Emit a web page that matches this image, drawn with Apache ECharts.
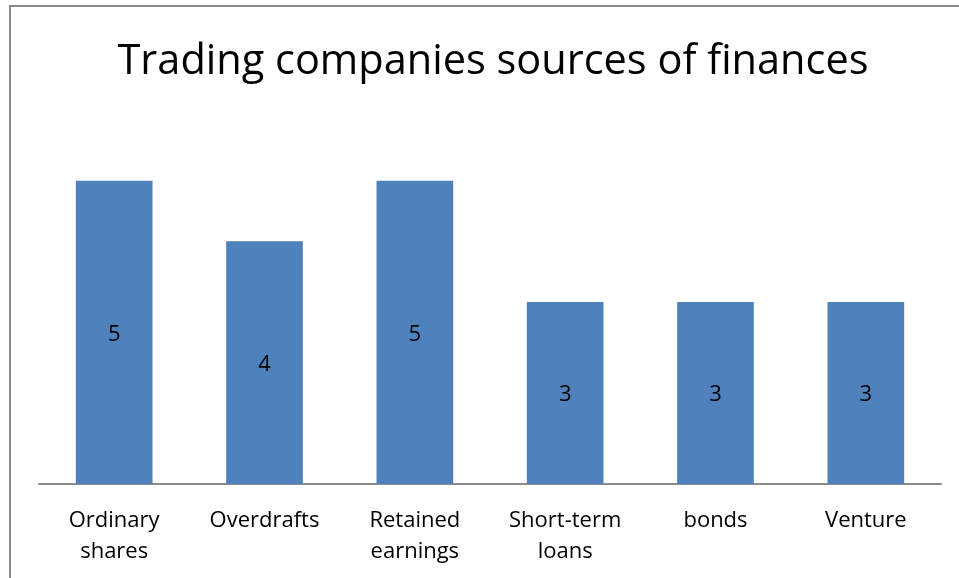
<!DOCTYPE html>
<html>
<head>
<meta charset="utf-8">
<script src="https://cdn.jsdelivr.net/npm/echarts@6/dist/echarts.min.js"></script>
<style>
  html, body { margin: 0; padding: 0; background: #fff; }
  #chart { width: 959px; height: 578px; }
</style>
</head>
<body>
<div id="chart"></div>
<script>
const titleText = 'Trading companies sources of finances';
const categories = ['Ordinary\nshares', 'Overdrafts', 'Retained\nearnings', 'Short-term\nloans', 'bonds', 'Venture'];
const values = [5, 4, 5, 3, 3, 3];

const chart = echarts.init(document.getElementById('chart'), null, { renderer: 'canvas' });
chart.setOption({
  animation: false,
  backgroundColor: '#ffffff',
  title: {
    text: titleText,
    left: 488,
    top: 36,
    textAlign: 'center',
    textStyle: { fontFamily: 'Open Sans', fontSize: 41.5, fontWeight: 'normal', color: '#000' }
  },
  graphic: [{
    type: 'rect',
    shape: { x: 10, y: 6, width: 960, height: 600 },
    style: { fill: 'none', stroke: '#8a8a8a', lineWidth: 2 },
    silent: true
  }],
  grid: { left: 39, right: 18, top: 120, bottom: 94, containLabel: false },
  xAxis: {
    type: 'category',
    data: categories,
    axisLine: { lineStyle: { color: '#8c8c8c', width: 2 } },
    axisTick: { show: false },
    axisLabel: {
      interval: 0,
      margin: 21,
      fontFamily: 'Open Sans',
      fontSize: 22,
      lineHeight: 31,
      color: '#000'
    }
  },
  yAxis: {
    type: 'value',
    min: 0,
    max: 6,
    interval: 1,
    show: false,
    splitLine: { show: false }
  },
  series: [{
    type: 'bar',
    data: values,
    barWidth: '51%',
    itemStyle: { color: '#4f81bd' },
    label: {
      show: true,
      position: 'inside',
      offset: [0, 2],
      fontFamily: 'Open Sans',
      fontSize: 22,
      color: '#000'
    }
  }]
});
</script>
</body>
</html>
